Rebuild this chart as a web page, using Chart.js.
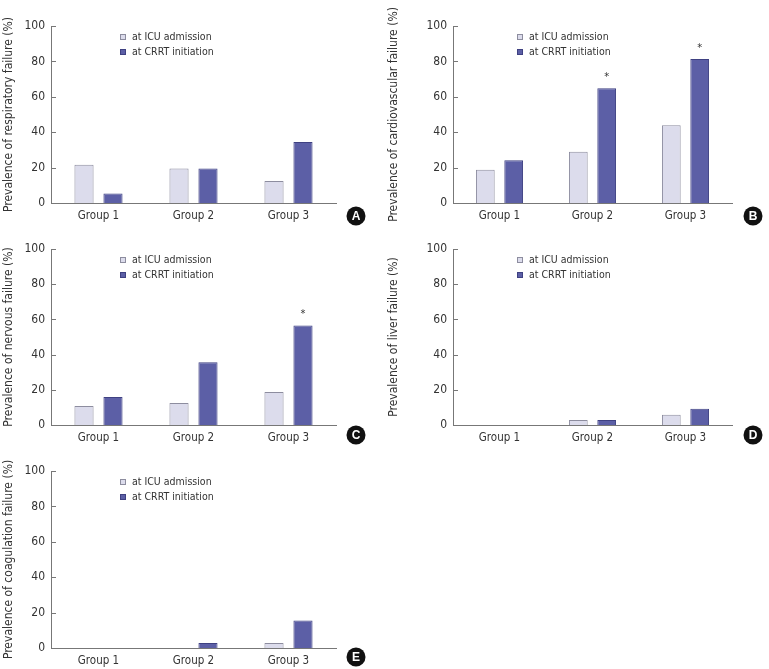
<!DOCTYPE html>
<html>
<head>
<meta charset="utf-8">
<script src="https://cdn.jsdelivr.net/npm/chart.js@4.4.1/dist/chart.umd.min.js"></script>
<style>
  html, body { margin: 0; padding: 0; background: #fff; }
  #wrap { position: relative; width: 769px; height: 669px; overflow: hidden; }
  .panel { position: absolute; }
</style>
</head>
<body>
<div id="wrap"></div>
<script>
// data (%)
const groups = ["Group 1", "Group 2", "Group 3"];
const yTicks = [0, 20, 40, 60, 80, 100];
const seriesNames = ["at ICU admission", "at CRRT initiation"];

const respIcu = [21.6, 19.5, 12.4];
const respCrrt = [5.4, 19.5, 34.5];
const cardioIcu = [18.8, 29.0, 43.9];
const cardioCrrt = [24.1, 64.8, 81.4];
const nervIcu = [10.8, 12.5, 18.7];
const nervCrrt = [15.9, 35.7, 56.5];
const liverIcu = [0, 2.8, 5.8];
const liverCrrt = [0, 2.8, 9.2];
const coagIcu = [0, 0, 2.8];
const coagCrrt = [0, 2.8, 15.6];

const cardioStars = [false, true, true];
const nervStars = [false, false, true];

const FONT = "'Liberation Sans Narrow', 'DejaVu Sans Condensed', 'Liberation Sans', sans-serif";
const icuFill = "#dcdcec", icuLine = "#8d8d9f";
const crrtFill = "#5c5fa6", crrtLine = "#3f4182";

// panel boxes and where the plot area sits inside them
const panels = [
  { id: "A", x: 0, y: 0, w: 385, area: [51, 26, 336, 203], title: "Prevalence of respiratory failure (%)", icu: respIcu, crrt: respCrrt, stars: null, badge: [356, 216], legendDx: 69 },
  { id: "B", x: 385, y: 0, w: 384, area: [68, 26, 347, 203], title: "Prevalence of cardiovascular failure (%)", icu: cardioIcu, crrt: cardioCrrt, stars: cardioStars, badge: [368, 216], legendDx: 64 },
  { id: "C", x: 0, y: 225, w: 385, area: [51, 24, 336, 200], title: "Prevalence of nervous failure (%)", icu: nervIcu, crrt: nervCrrt, stars: nervStars, badge: [356, 210], legendDx: 69 },
  { id: "D", x: 385, y: 225, w: 384, area: [68, 24, 347, 200], title: "Prevalence of liver failure (%)", icu: liverIcu, crrt: liverCrrt, stars: null, badge: [368, 210], legendDx: 64 },
  { id: "E", x: 0, y: 445, w: 385, area: [51, 26, 336, 203], title: "Prevalence of coagulation failure (%)", icu: coagIcu, crrt: coagCrrt, stars: null, badge: [356, 212], legendDx: 69 }
];
const PANEL_H = 226;

const extras = {
  id: "extras",
  afterDraw(chart, args, opts) {
    const ctx = chart.ctx;
    const a = chart.chartArea;
    const ys = chart.scales.y;
    ctx.save();
    // short inward ticks on the y axis
    ctx.strokeStyle = "#777";
    ctx.lineWidth = 1;
    yTicks.forEach(v => {
      const py = Math.round(ys.getPixelForValue(v)) + 0.5;
      ctx.beginPath();
      ctx.moveTo(a.left, py);
      ctx.lineTo(a.left + 5, py);
      ctx.stroke();
    });
    // legend
    ctx.font = "10.5px " + FONT;
    ctx.textBaseline = "middle";
    const lx = a.left + opts.legendDx;
    chart.data.datasets.forEach((ds, i) => {
      const ly = a.top + 11 + i * 15;
      ctx.fillStyle = ds.backgroundColor;
      ctx.strokeStyle = ds.borderColor;
      ctx.fillRect(lx, ly - 3, 6, 6);
      ctx.strokeRect(lx + 0.5, ly - 2.5, 5, 5);
      ctx.fillStyle = "#333";
      ctx.fillText(ds.label, lx + 12, ly);
    });
    // significance stars
    if (opts.stars) {
      const meta = chart.getDatasetMeta(1);
      ctx.fillStyle = "#333";
      ctx.font = "11px " + FONT;
      ctx.textAlign = "center";
      opts.stars.forEach((s, i) => {
        if (!s) return;
        const bar = meta.data[i];
        ctx.fillText("*", bar.x, bar.y - 11);
      });
    }
    // panel letter badge
    ctx.beginPath();
    ctx.fillStyle = "#111";
    ctx.arc(opts.badge[0], opts.badge[1], 9.5, 0, Math.PI * 2);
    ctx.fill();
    ctx.fillStyle = "#fff";
    ctx.font = "bold 12px 'Liberation Sans', sans-serif";
    ctx.textAlign = "center";
    ctx.fillText(opts.letter, opts.badge[0], opts.badge[1] + 1);
    ctx.restore();
  }
};

const wrap = document.getElementById("wrap");
panels.forEach(p => {
  const div = document.createElement("div");
  div.className = "panel";
  div.style.left = p.x + "px";
  div.style.top = p.y + "px";
  const cv = document.createElement("canvas");
  cv.width = p.w;
  cv.height = PANEL_H;
  cv.style.width = p.w + "px";
  cv.style.height = PANEL_H + "px";
  div.appendChild(cv);
  wrap.appendChild(div);

  const [L, T, R, B] = p.area;
  new Chart(cv, {
    type: "bar",
    data: {
      labels: groups,
      datasets: [
        { label: seriesNames[0], data: p.icu, backgroundColor: icuFill, borderColor: icuLine, borderWidth: 1 },
        { label: seriesNames[1], data: p.crrt, backgroundColor: crrtFill, borderColor: crrtLine, borderWidth: 1 }
      ]
    },
    options: {
      responsive: false,
      animation: false,
      devicePixelRatio: 1,
      categoryPercentage: 0.61,
      barPercentage: 0.66,
      layout: { padding: { left: 0, top: T, right: p.w - R, bottom: 0 } },
      plugins: {
        legend: { display: false },
        tooltip: { enabled: false },
        extras: { legendDx: p.legendDx, stars: p.stars, badge: p.badge, letter: p.id }
      },
      scales: {
        x: {
          grid: { display: false, drawTicks: false },
          border: { display: true, color: "#777", width: 1 },
          ticks: { color: "#333", font: { family: FONT, size: 11.5 }, padding: 6 },
          afterFit(s) { s.height = PANEL_H - B; }
        },
        y: {
          min: 0,
          max: 100,
          afterBuildTicks(s) { s.ticks = yTicks.map(v => ({ value: v })); },
          grid: { display: false, drawTicks: false },
          border: { display: true, color: "#777", width: 1 },
          ticks: { color: "#333", font: { family: FONT, size: 12 }, padding: 6 },
          title: { display: true, text: p.title, color: "#333", font: { family: FONT, size: 12 }, padding: { top: 2, bottom: 0 } },
          afterFit(s) { s.width = L; }
        }
      }
    },
    plugins: [extras]
  });
});
</script>
</body>
</html>
